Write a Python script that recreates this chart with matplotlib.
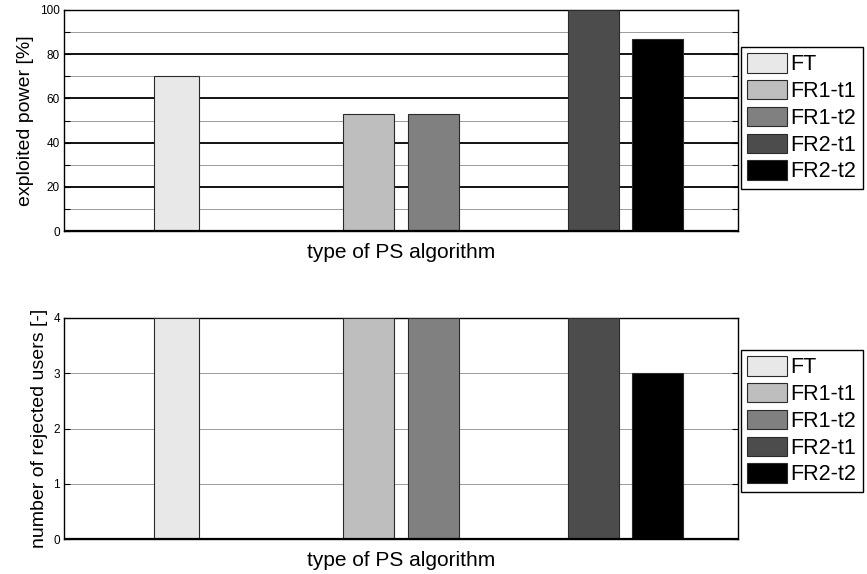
import matplotlib
matplotlib.use("Agg")
import matplotlib.pyplot as plt
from matplotlib.ticker import MultipleLocator

plt.rcParams['font.family'] = ['Liberation Sans', 'DejaVu Sans']

# data
series = ['FT', 'FR1-t1', 'FR1-t2', 'FR2-t1', 'FR2-t2']
group = [1, 2, 2, 3, 3]          # which PS algorithm group each bar belongs to
power = [70, 53, 53, 100, 87]    # exploited power [%]
rejected = [4, 4, 4, 4, 3]       # number of rejected users [-]
colors = ['#e8e8e8', '#bebebe', '#808080', '#4c4c4c', '#000000']

# bar placement inside each group
offset = [0.0, -0.143, 0.143, -0.143, 0.143]
width = [0.2, 0.228, 0.228, 0.228, 0.228]


def draw(ax, vals, ymax, major, minor, ylabel):
    xs = [g + o for g, o in zip(group, offset)]
    for i in range(len(series)):
        ax.bar(xs[i], vals[i], width=width[i], color=colors[i],
               edgecolor='#2a2a2a', linewidth=0.8, label=series[i], zorder=3)
    ax.set_xlim(0.5, 3.5)
    ax.set_ylim(0, ymax)
    ax.yaxis.set_major_locator(MultipleLocator(major))
    ax.set_xticks([])
    if minor:
        ax.yaxis.set_minor_locator(MultipleLocator(minor))
        ax.grid(which='minor', axis='y', color='#8c8c8c', linewidth=0.6, zorder=0)
        ax.grid(which='major', axis='y', color='black', linewidth=1.3, zorder=1)
    else:
        ax.grid(which='major', axis='y', color='#8c8c8c', linewidth=0.6, zorder=0)
    ax.axhline(0, color='black', linewidth=1.6, zorder=4)
    ax.tick_params(axis='y', which='both', direction='in', right=True,
                   length=4, width=0.8, labelsize=8.5, pad=3)
    for s in ax.spines.values():
        s.set_linewidth(1.0)
    ax.set_ylabel(ylabel, fontsize=14, labelpad=4)
    ax.set_xlabel('type of PS algorithm', fontsize=15, labelpad=9)


fig = plt.figure(figsize=(8.67, 5.74), dpi=100)
ax1 = fig.add_axes([64/867, 1-231/574, 674/867, 221/574])
ax2 = fig.add_axes([64/867, 1-539/574, 674/867, 221/574])

draw(ax1, power, 100, 20, 10, 'exploited power [%]')
draw(ax2, rejected, 4, 1, None, 'number of rejected users [-]')

for ax, top in [(ax1, 47), (ax2, 350)]:
    leg = ax.legend(loc='upper left', bbox_to_anchor=(741/867, 1-top/574),
                    bbox_transform=fig.transFigure, fontsize=15.5,
                    fancybox=False, framealpha=1, edgecolor='black',
                    handlelength=1.85, handleheight=1.0, handletextpad=0.15,
                    labelspacing=0.22, borderpad=0.3, borderaxespad=0)
    leg.get_frame().set_linewidth(1.0)

fig.savefig('out.png', dpi=100)
